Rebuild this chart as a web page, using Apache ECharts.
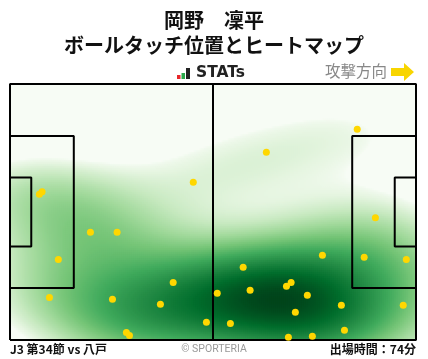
<!DOCTYPE html>
<html><head><meta charset="utf-8">
<script src="https://cdn.jsdelivr.net/npm/echarts@6/dist/echarts.min.js"></script>
<style>html,body{margin:0;padding:0;background:#fff}#c{width:428px;height:359px}</style>
</head><body><div id="c"></div>
<script>
// ---- data ----
const playerName = '岡野　凜平';
const chartTitle = 'ボールタッチ位置とヒートマップ';
const matchLabel = 'J3 第34節 vs 八戸';
const minutesLabel = '出場時間：74分';
const attackLabel = '攻撃方向';
const touchX = [7.6, 8.3, 47.4, 89.8, 66.3, 94.5, 20.8, 27.7, 12.5, 10.2, 26.5, 42.2, 38.9, 50.8, 30.1, 30.9, 80.8, 91.6, 102.5, 60.3, 53.6, 62.1, 71.5, 72.7, 76.9, 73.8, 85.7, 101.7, 57.0, 86.5, 72.0, 78.2];
const touchY = [38.7, 39.4, 41.9, 56.0, 49.9, 32.5, 28.6, 28.6, 21.4, 11.3, 10.8, 15.3, 9.5, 4.7, 2.0, 1.2, 22.5, 22.0, 21.4, 19.3, 12.4, 13.2, 14.3, 15.3, 11.9, 7.4, 9.2, 9.2, 4.4, 2.6, 0.7, 1.0];
// pitch dimensions (m)
const pitchLength = 105, pitchWidth = 68;
const boxDepth = 16.5, boxWidth = 40.32, goalAreaDepth = 5.5, goalAreaWidth = 18.32;

// ---- KDE (gaussian, Scott bandwidth) ----
const n = touchX.length;
const mx = touchX.reduce((a,b)=>a+b,0)/n, my = touchY.reduce((a,b)=>a+b,0)/n;
let sxx=0, syy=0, sxy=0;
for (let k=0;k<n;k++){const dx=touchX[k]-mx, dy=touchY[k]-my; sxx+=dx*dx; syy+=dy*dy; sxy+=dx*dy;}
sxx/=(n-1); syy/=(n-1); sxy/=(n-1);
const f2 = Math.pow(n, -1/3);
const cxx=sxx*f2, cyy=syy*f2, cxy=sxy*f2;
const det = cxx*cyy-cxy*cxy;
const ixx=cyy/det, iyy=cxx/det, ixy=-cxy/det;
const NX=203, NY=128;
const cells=[];
for (let i=0;i<NX;i++){
  const x=(i+0.5)*pitchLength/NX;
  for (let j=0;j<NY;j++){
    const y=(j+0.5)*pitchWidth/NY;
    let s=0;
    for (let k=0;k<n;k++){const dx=x-touchX[k], dy=y-touchY[k]; s+=Math.exp(-0.5*(dx*dx*ixx+2*dx*dy*ixy+dy*dy*iyy));}
    cells.push([i,j,s]);
  }
}
const sorted=cells.map(c=>c[2]).sort((a,b)=>a-b);
const total=sorted.reduce((a,b)=>a+b,0);
let cum=0, thr=sorted[0];
for (const v of sorted){cum+=v; if (cum>=0.05*total){thr=v;break;}}
const dmax=sorted[sorted.length-1];
const gamma=0.6;
const heat=cells.map(c=>[c[0],c[1], c[2]<thr ? -1 : Math.pow((c[2]-thr)/(dmax-thr), gamma)]);

const xCats=[...Array(NX).keys()], yCats=[...Array(NY).keys()];
const G={left:10, top:84, width:406, height:256};

function lineSeries(pts){
  return {type:'line', xAxisIndex:1, yAxisIndex:1, data:pts, symbol:'none', clip:false, silent:true,
    lineStyle:{color:'#000', width:2}, z:5, animation:false};
}
const L=pitchLength, W=pitchWidth, cy=W/2;
const lines=[
  [[0,0],[L,0],[L,W],[0,W],[0,0]],
  [[L/2,0],[L/2,W]],
  [[0,cy-boxWidth/2],[boxDepth,cy-boxWidth/2],[boxDepth,cy+boxWidth/2],[0,cy+boxWidth/2]],
  [[0,cy-goalAreaWidth/2],[goalAreaDepth,cy-goalAreaWidth/2],[goalAreaDepth,cy+goalAreaWidth/2],[0,cy+goalAreaWidth/2]],
  [[L,cy-boxWidth/2],[L-boxDepth,cy-boxWidth/2],[L-boxDepth,cy+boxWidth/2],[L,cy+boxWidth/2]],
  [[L,cy-goalAreaWidth/2],[L-goalAreaDepth,cy-goalAreaWidth/2],[L-goalAreaDepth,cy+goalAreaWidth/2],[L,cy+goalAreaWidth/2]]
];

const jp="'Noto Sans CJK JP', sans-serif";
const chart=echarts.init(document.getElementById('c'));
chart.setOption({
  animation:false,
  backgroundColor:'#fff',
  grid:[Object.assign({},G),Object.assign({},G)],
  xAxis:[{type:'category',data:xCats,gridIndex:0,show:false,boundaryGap:true},
         {type:'value',gridIndex:1,min:0,max:L,show:false}],
  yAxis:[{type:'category',data:yCats,gridIndex:0,show:false,boundaryGap:true},
         {type:'value',gridIndex:1,min:0,max:W,show:false}],
  visualMap:{show:false,type:'continuous',seriesIndex:0,min:0,max:1,
    inRange:{color:['#f7fcf5','#e5f5e0','#c7e9c0','#a1d99b','#74c476','#41ab5d','#238b45','#006d2c','#00441b']},
    outOfRange:{color:'rgba(255,255,255,0)'}},
  series:[
    {type:'heatmap',xAxisIndex:0,yAxisIndex:0,data:heat,progressive:0,silent:true,itemStyle:{borderWidth:0},z:1},
    ...lines.map(lineSeries),
    {type:'scatter',xAxisIndex:1,yAxisIndex:1,data:touchX.map((x,k)=>[x,touchY[k]]),symbolSize:7,
      itemStyle:{color:'#ffd700',opacity:1},silent:true,z:10}
  ],
  graphic:[
    {type:'text',left:'center',top:10,style:{text:playerName,font:"bold 20px "+jp,fill:'#111'}},
    {type:'text',left:'center',top:35,style:{text:chartTitle,font:"bold 20px "+jp,fill:'#111'}},
    {type:'rect',shape:{x:177,y:75,width:3.5,height:4},style:{fill:'#e8262a'}},
    {type:'rect',shape:{x:181.5,y:73,width:3.5,height:6},style:{fill:'#2aa84a'}},
    {type:'rect',shape:{x:186,y:68,width:4,height:11},style:{fill:'#222'}},
    {type:'text',x:196,y:65,style:{text:'STATs',font:"bold 15.5px 'DejaVu Sans', sans-serif",fill:'#222'}},
    {type:'text',x:325,y:63,style:{text:attackLabel,font:"15.5px "+jp,fill:'#888'}},
    {type:'polygon',shape:{points:[[391,68],[404,68],[404,63],[414,72],[404,81],[404,76],[391,76]]},style:{fill:'#f8d500'}},
    {type:'text',x:10,y:343,style:{text:matchLabel,font:"bold 12px "+jp,fill:'#111'}},
    {type:'text',left:'center',y:344,style:{text:'© SPORTERIA',font:"10.5px 'Roboto', sans-serif",fill:'#999'}},
    {type:'text',right:12,y:343,style:{text:minutesLabel,font:"bold 12px "+jp,fill:'#111'}}
  ]
});
</script></body></html>
